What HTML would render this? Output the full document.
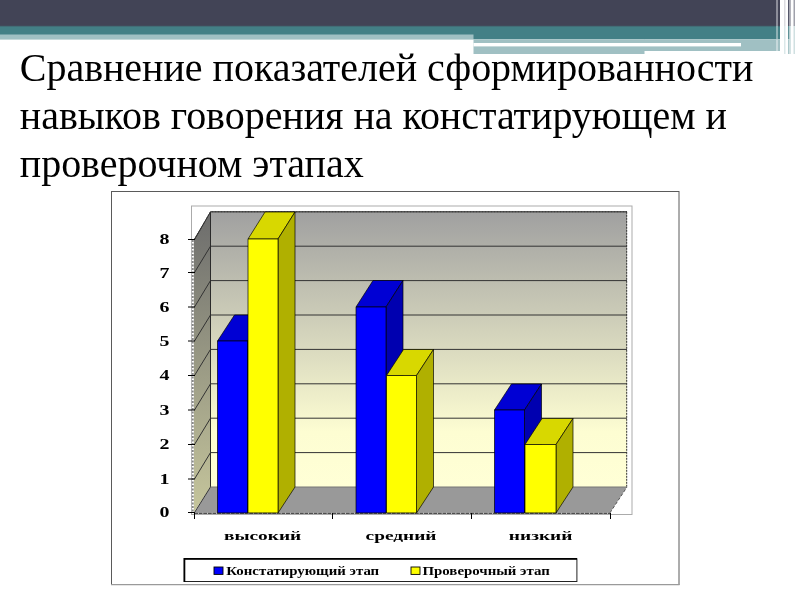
<!DOCTYPE html>
<html lang="ru">
<head>
<meta charset="utf-8">
<title>Сравнение показателей</title>
<style>
html,body{margin:0;padding:0;background:#fff;}
body{width:800px;height:600px;position:relative;overflow:hidden;font-family:"Liberation Serif",serif;}
.abs{position:absolute;}
#title{position:absolute;left:19.8px;letter-spacing:-0.03px;top:44px;margin:0;font-weight:normal;font-size:40px;line-height:48px;color:#000;white-space:nowrap;}
svg text{font-family:"Liberation Serif",serif;font-weight:bold;fill:#000;}
</style>
</head>
<body>
<!-- header -->
<svg class="abs" style="left:0;top:0" width="800" height="60" viewBox="0 0 800 60">
<rect x="0" y="0" width="800" height="26.6" fill="#424456"/>
<rect x="0" y="26" width="800" height="13.3" fill="#438086"/>
<rect x="0" y="25.8" width="800" height="1" fill="#436a74"/>
<rect x="0" y="34.5" width="473.5" height="4.5" fill="#a0c0c3"/>
<rect x="473.5" y="39.3" width="171" height="14.7" fill="#a0c0c3"/>
<rect x="644" y="39.3" width="136" height="11.7" fill="#a0c0c3"/>
<rect x="473.5" y="43" width="267.5" height="3.4" fill="#fff"/>
<!-- right stripes -->
<rect x="776" y="0" width="2" height="26" fill="#8d8e9a"/>
<rect x="776" y="26" width="2" height="13.3" fill="#8eb3b6"/>
<rect x="776" y="39.3" width="2" height="11.7" fill="#c6d9db"/>
<rect x="780" y="0" width="20" height="55" fill="#fff"/>
<rect x="784" y="0" width="1.5" height="26" fill="#dcdce0"/>
<rect x="784" y="26" width="1.5" height="28" fill="#dbe8e9"/>
<rect x="788" y="0" width="1.6" height="26" fill="#55576a"/>
<rect x="788" y="26" width="1.6" height="13.3" fill="#5f9297"/>
<rect x="788" y="39.3" width="1.6" height="14.7" fill="#a9c6c9"/>
<rect x="789.6" y="0" width="1.4" height="26" fill="#b3b4bc"/>
<rect x="789.6" y="26" width="1.4" height="28" fill="#d4e3e4"/>
<rect x="793.5" y="0" width="1.5" height="26" fill="#a0a1ab"/>
<rect x="793.5" y="26" width="1.5" height="28" fill="#d0e0e1"/>
</svg>

<h1 id="title">Сравнение показателей сформированности<br>навыков говорения на констатирующем и<br>проверочном этапах</h1>

<svg class="abs" style="left:0;top:0" width="800" height="600" viewBox="0 0 800 600">
<defs>
<linearGradient id="gw" x1="0" y1="0" x2="0" y2="1">
<stop offset="0" stop-color="#a0a0a0"/>
<stop offset="0.8" stop-color="#fdfdd2"/>
<stop offset="1" stop-color="#ffffd6"/>
</linearGradient>
<linearGradient id="gs" x1="0" y1="0" x2="0" y2="1">
<stop offset="0" stop-color="#6c6c6c"/>
<stop offset="1" stop-color="#c6c69c"/>
</linearGradient>
</defs>
<!-- outer border -->
<rect x="111.5" y="191.5" width="567.5" height="393" fill="#fff" stroke="#5a5a5a" stroke-width="1"/>
<path d="M111 584.6H679.5" stroke="#9a9a9a" stroke-width="1.4" fill="none"/>
<!-- inner frame -->
<rect x="191.5" y="206" width="440.5" height="308.5" fill="#fff" stroke="#ababab" stroke-width="1"/>
<!-- back wall -->
<rect x="210.5" y="211.8" width="416.5" height="275.2" fill="url(#gw)"/>
<!-- side wall -->
<polygon points="193.7,239.5 210.5,211.8 210.5,487 193.7,512.5" fill="url(#gs)"/>
<!-- floor -->
<polygon points="194.5,512.8 210.5,487 627,487 610,512.8" fill="#999"/>
<!-- gridlines -->
<g stroke="#333" stroke-width="1" fill="none">
<path d="M210.5 452.6H627M210.5 418.2H627M210.5 383.8H627M210.5 349.4H627M210.5 315.0H627M210.5 280.6H627M210.5 246.2H627M210.5 211.8H627"/>
<path d="M194.5 512.5L210.5 487.0M194.5 479.0L210.5 452.6M194.5 444.5L210.5 418.2M194.5 410.0L210.5 383.8M194.5 375.5L210.5 349.4M194.5 341.0L210.5 315.0M194.5 307.0L210.5 280.6M194.5 272.5L210.5 246.2M194.5 239.5L210.5 211.8"/>
<path d="M210.5 211.8V487" stroke="#2a2a2a"/>
<path d="M626.7 211.8V487" stroke-dasharray="2 1"/>
<path d="M194.5 239.5L210.5 211.8H627" stroke-dasharray="2 1"/>
<path d="M210.5 487H627" stroke="#777"/>
<path d="M610 512.8L627 487" stroke="#555" stroke-dasharray="3 2"/>
</g>
<!-- bars -->
<g stroke="#000" stroke-opacity="0.75" stroke-width="0.9" stroke-linejoin="round">
<!-- group1 blue v5 -->
<polygon points="217.5,341 234.5,315 264.5,315 247.5,341" fill="#0000d4"/>
<polygon points="247.5,341 264.5,315 264.5,487 247.5,513" fill="#0000b0"/>
<rect x="217.5" y="341" width="30" height="172" fill="#0000ff"/>
<!-- group1 yellow v8 -->
<polygon points="248,239 265,212 295,212 278,239" fill="#d8d800"/>
<polygon points="278,239 295,212 295,487 278,513" fill="#b0b000"/>
<rect x="248" y="239" width="30" height="274" fill="#ffff00"/>
<!-- group2 blue v6 -->
<polygon points="356,307 373,280.5 403,280.5 386,307" fill="#0000d4"/>
<polygon points="386,307 403,280.5 403,487 386,513" fill="#0000b0"/>
<rect x="356" y="307" width="30" height="206" fill="#0000ff"/>
<!-- group2 yellow v4 -->
<polygon points="386.5,375.5 403.5,349.5 433.5,349.5 416.5,375.5" fill="#d8d800"/>
<polygon points="416.5,375.5 433.5,349.5 433.5,487 416.5,513" fill="#b0b000"/>
<rect x="386.5" y="375.5" width="30" height="137.5" fill="#ffff00"/>
<!-- group3 blue v3 -->
<polygon points="494.5,410 511.5,384 541.5,384 524.5,410" fill="#0000d4"/>
<polygon points="524.5,410 541.5,384 541.5,487 524.5,513" fill="#0000b0"/>
<rect x="494.5" y="410" width="30" height="103" fill="#0000ff"/>
<!-- group3 yellow v2 -->
<polygon points="525,444.5 542,418.5 573,418.5 556,444.5" fill="#d8d800"/>
<polygon points="556,444.5 573,418.5 573,487 556,513" fill="#b0b000"/>
<rect x="525" y="444.5" width="31" height="68.5" fill="#ffff00"/>
</g>
<!-- axes -->
<g stroke="#000" stroke-width="1" fill="none">
<path d="M192.8 240V513" stroke="#fff" stroke-width="1.8"/>
<path d="M192.8 240V513" stroke="#888" stroke-width="1.8" stroke-dasharray="2 1.5"/>
<path d="M194 513.3H610" stroke="#222" stroke-dasharray="4 0.6"/>
<path d="M188 512.5H195M188 479.0H195M188 444.5H195M188 410.0H195M188 375.5H195M188 341.0H195M188 307.0H195M188 272.5H195M188 239.5H195"/>
<path d="M194.5 513V519M332.5 513V519M471.5 513V519M610.5 513V519"/>
</g>
<!-- y labels -->
<g font-size="15" text-anchor="middle">
<text transform="translate(164.5 517.3) scale(1.33 1)">0</text>
<text transform="translate(164.5 483.8) scale(1.33 1)">1</text>
<text transform="translate(164.5 449.3) scale(1.33 1)">2</text>
<text transform="translate(164.5 414.8) scale(1.33 1)">3</text>
<text transform="translate(164.5 380.3) scale(1.33 1)">4</text>
<text transform="translate(164.5 345.8) scale(1.33 1)">5</text>
<text transform="translate(164.5 311.8) scale(1.33 1)">6</text>
<text transform="translate(164.5 277.8) scale(1.33 1)">7</text>
<text transform="translate(164.5 244.3) scale(1.33 1)">8</text>
</g>
<!-- x labels -->
<g font-size="13" text-anchor="middle">
<text transform="translate(262.6 539.5) scale(1.49 1)">высокий</text>
<text transform="translate(401 539.5) scale(1.49 1)">средний</text>
<text transform="translate(540.6 539.5) scale(1.49 1)">низкий</text>
</g>
<!-- legend -->
<rect x="184.4" y="558.8" width="392.5" height="22.7" fill="#fff" stroke="#222" stroke-width="1"/>
<path d="M184.4 582V558.8H577" stroke="#000" stroke-width="1.8" fill="none"/>
<rect x="214" y="567" width="9" height="7.4" fill="#0000ff" stroke="#000" stroke-width="0.9"/>
<rect x="411" y="567" width="9" height="7.4" fill="#ffff00" stroke="#000" stroke-width="0.9"/>
<g font-size="12.5">
<text transform="translate(226.3 574.8) scale(1.19 1)">Констатирующий этап</text>
<text transform="translate(422.5 574.8) scale(1.19 1)">Проверочный этап</text>
</g>
</svg>
</body>
</html>
